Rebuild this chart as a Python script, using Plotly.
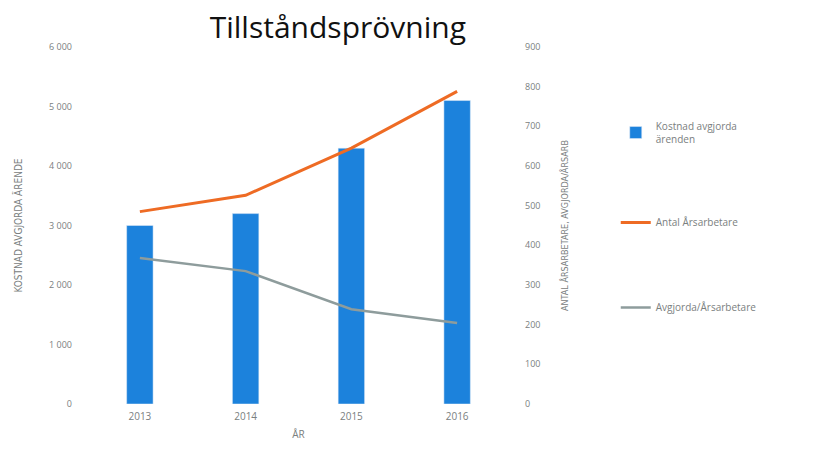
import plotly.graph_objects as go

years = ["2013", "2014", "2015", "2016"]
kostnad = [3000, 3200, 4300, 5100]
antal = [485, 526, 645, 788]
avgjorda = [368, 335, 239, 204]

left_ticks = [0, 1000, 2000, 3000, 4000, 5000, 6000]
left_labels = ["0", "1 000", "2 000", "3 000", "4 000", "5 000", "6 000"]
right_ticks = [0, 100, 200, 300, 400, 500, 600, 700, 800, 900]

blue = "#1c82dc"
orange = "#ee6b24"
gray = "#8e9c9c"
txt = "#7a8080"

fig = go.Figure()
fig.add_trace(go.Bar(x=years, y=kostnad, name="Kostnad avgjorda<br>ärenden",
                     marker_color=blue, legendgroup="a"))
fig.add_trace(go.Scatter(x=years, y=antal, name="Antal Årsarbetare", mode="lines",
                         line=dict(color=orange, width=3), yaxis="y2", legendgroup="b"))
fig.add_trace(go.Scatter(x=years, y=avgjorda, name="Avgjorda/Årsarbetare", mode="lines",
                         line=dict(color=gray, width=2.5), yaxis="y2", legendgroup="c"))

fig.update_layout(
    width=814, height=460,
    margin=dict(l=87, r=304, t=47, b=56),
    paper_bgcolor="white", plot_bgcolor="white",
    bargap=0.75,
    title=dict(text="Tillståndsprövning", x=0.415, xanchor="center", y=0.94, yanchor="middle",
               font=dict(family="Open Sans", size=30, color="#111111")),
    font=dict(family="Open Sans", size=10, color=txt),
    xaxis=dict(showgrid=False, showline=False, ticks="",
               ticklabelstandoff=5,
               title=dict(text="ÅR", font=dict(size=10, color=txt), standoff=8),
               tickfont=dict(size=10, color=txt)),
    yaxis=dict(range=[0, 6000], tickvals=left_ticks, ticktext=left_labels,
               showgrid=False, zeroline=False, showline=False, ticks="",
               ticklabelstandoff=14,
               title=dict(text="KOSTNAD AVGJORDA ÄRENDE",
                          font=dict(family="DejaVu Sans Condensed", size=10, color=txt), standoff=24),
               tickfont=dict(size=9, color=txt)),
    yaxis2=dict(range=[0, 900], tickvals=right_ticks, overlaying="y", side="right",
                showgrid=False, zeroline=False, showline=False, ticks="",
                ticklabelstandoff=14,
                title=dict(text="ANTAL ÅRSARBETARE, AVGJORDA/ÅRSARB",
                           font=dict(family="DejaVu Sans Condensed", size=9, color=txt), standoff=22),
                tickfont=dict(size=9, color=txt)),
    legend=dict(x=1.25, xanchor="left", y=0.815, yanchor="top",
                tracegroupgap=66, font=dict(size=10, color=txt),
                itemwidth=30, bgcolor="rgba(0,0,0,0)"),
    showlegend=True,
)

fig.write_html("out.html")
